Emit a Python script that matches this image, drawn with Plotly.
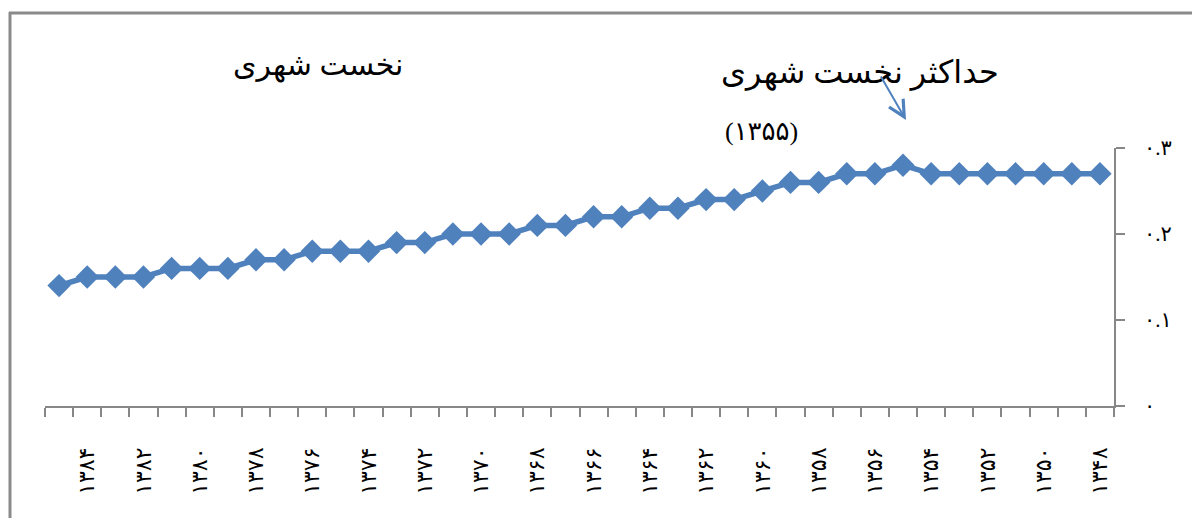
import plotly.graph_objects as go

years = list(range(1385, 1347, -1))
values = [0.14,
          0.15, 0.15, 0.15,
          0.16, 0.16, 0.16,
          0.17, 0.17,
          0.18, 0.18, 0.18,
          0.19, 0.19,
          0.20, 0.20, 0.20,
          0.21, 0.21,
          0.22, 0.22,
          0.23, 0.23,
          0.24, 0.24,
          0.25,
          0.26, 0.26,
          0.27, 0.27,
          0.28,
          0.27, 0.27, 0.27, 0.27, 0.27, 0.27, 0.27]

fa_digits = str.maketrans("0123456789", "۰۱۲۳۴۵۶۷۸۹")
label_years = list(range(1384, 1347, -2))
label_text = [str(y).translate(fa_digits) for y in label_years]
y_ticks = [0, 0.1, 0.2, 0.3]
y_text = ["۰", "۰.۱", "۰.۲", "۰.۳"]

title_text = "نخست شهری"
peak_text = "حداکثر نخست شهری"
peak_year_text = "(۱۳۵۵)"

FONT = "Times New Roman, DejaVu Sans, serif"
BLUE = "#4F81BD"
GRAY = "#878787"

OFF = 8  # page body margin
W, H = 1200 - OFF, 518 - OFF
# plot area in screen coords: x 45..1114, y 148..406
L = 45 - OFF
R = W - (1114 - OFF)
T = 148 - OFF
B = H - (406 - OFF)
pw, ph = W - L - R, H - T - B

def px(x):
    return (x - OFF - L) / pw

def py(y):
    return (H - B - (y - OFF)) / ph

fig = go.Figure()
fig.add_trace(go.Scatter(
    x=years, y=values, mode="lines+markers",
    line=dict(color=BLUE, width=5.5),
    marker=dict(symbol="diamond", size=18, color=BLUE),
    showlegend=False, cliponaxis=False,
))

fig.update_layout(
    width=W, height=H,
    margin=dict(l=L, r=R, t=T, b=B, autoexpand=False),
    paper_bgcolor="white", plot_bgcolor="white",
    font=dict(family=FONT, color="black"),
    xaxis=dict(
        range=[1385.5, 1347.5], showgrid=False, zeroline=False,
        showline=True, linecolor=GRAY, linewidth=1.5,
        tickvals=label_years, ticktext=label_text, tickangle=-90,
        ticks="", tickfont=dict(size=22, family=FONT),
        minor=dict(tick0=1347.5, dtick=1, ticks="outside", ticklen=9,
                   tickcolor=GRAY, tickwidth=1.5),
        ticklabelstandoff=31,
    ),
    yaxis=dict(
        range=[0, 0.3], side="right", showgrid=False, zeroline=False,
        showline=True, linecolor=GRAY, linewidth=1.5,
        tickvals=y_ticks, ticktext=y_text, ticks="outside", ticklen=9,
        tickcolor=GRAY, tickwidth=1.5, tickfont=dict(size=21, family=FONT),
        ticklabelstandoff=15,
    ),
    annotations=[
        dict(text=title_text, x=px(318), y=py(65), xref="paper", yref="paper",
             xanchor="center", yanchor="middle",
             showarrow=False, font=dict(size=30, family=FONT)),
        dict(text=peak_text, x=px(860), y=py(73), xref="paper", yref="paper",
             xanchor="center", yanchor="middle",
             showarrow=False, font=dict(size=32, family=FONT)),
        dict(text=peak_year_text, x=px(761), y=py(131), xref="paper", yref="paper",
             xanchor="center", yanchor="middle",
             showarrow=False, font=dict(size=26, family=FONT)),
        dict(text="", x=px(906), y=py(120), xref="paper", yref="paper",
             showarrow=True, ax=-26, ay=-45, arrowhead=5, arrowsize=1.6,
             arrowwidth=2, arrowcolor=BLUE),
    ],
    shapes=[
        dict(type="line", xref="paper", yref="paper",
             x0=px(9), x1=px(1210), y0=py(13), y1=py(13),
             line=dict(color="#8a8a8a", width=3)),
        dict(type="line", xref="paper", yref="paper",
             x0=px(10), x1=px(10), y0=py(12), y1=py(530),
             line=dict(color="#8a8a8a", width=3)),
    ],
)

fig.write_html("out.html")
